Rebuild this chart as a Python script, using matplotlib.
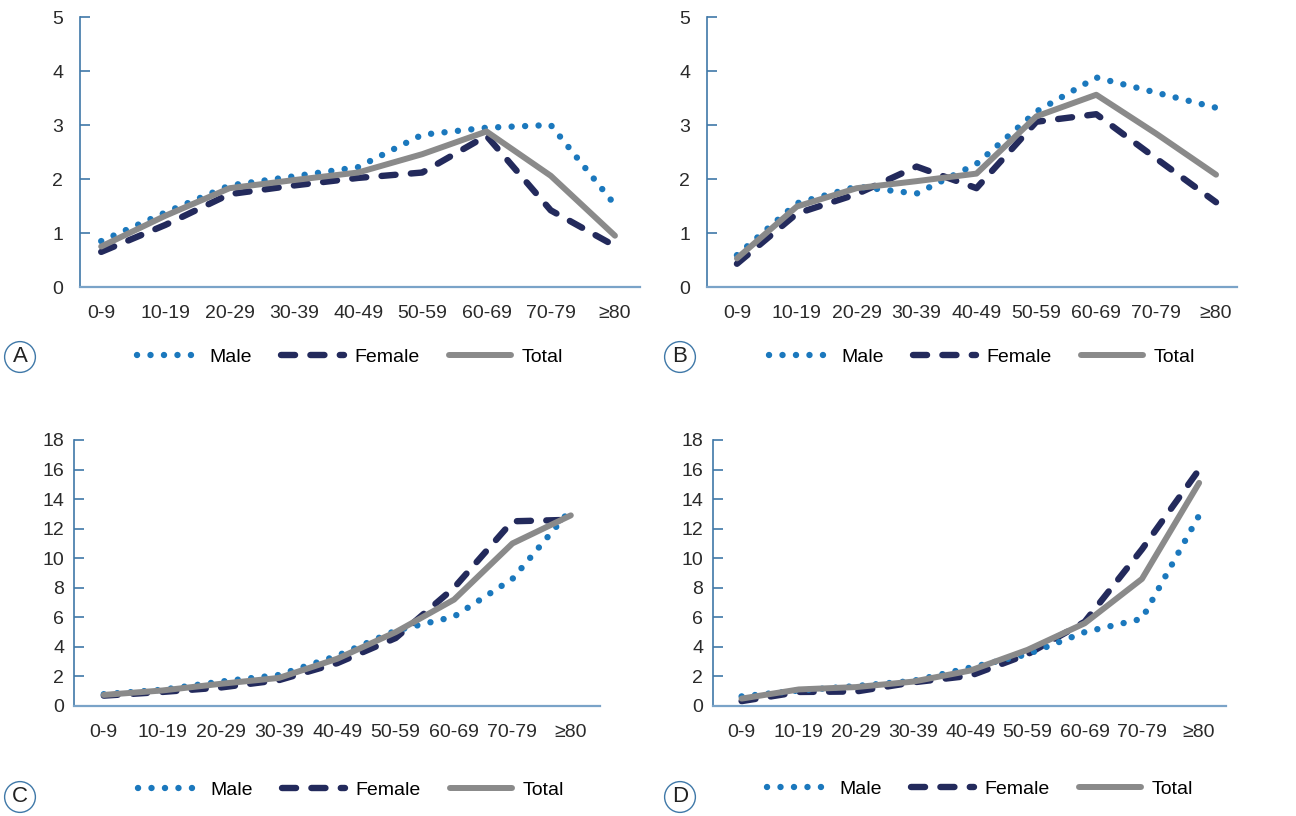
import numpy as np
import matplotlib
matplotlib.use("Agg")
from matplotlib import pyplot as plt
from matplotlib.lines import Line2D

plt.rcParams['font.family'] = ['Liberation Sans', 'DejaVu Sans']

ages = ['0-9', '10-19', '20-29', '30-39', '40-49', '50-59', '60-69', '70-79', '≥80']

# panel A
male_A = [0.85, 1.38, 1.88, 2.05, 2.22, 2.82, 2.95, 3.0, 1.52]
female_A = [0.65, 1.15, 1.72, 1.88, 2.02, 2.12, 2.8, 1.42, 0.76]
total_A = [0.75, 1.32, 1.83, 1.98, 2.12, 2.46, 2.88, 2.06, 0.95]
# panel B
male_B = [0.59, 1.55, 1.86, 1.73, 2.28, 3.25, 3.88, 3.6, 3.32]
female_B = [0.43, 1.36, 1.72, 2.23, 1.83, 3.06, 3.2, 2.38, 1.57]
total_B = [0.53, 1.49, 1.83, 1.96, 2.1, 3.16, 3.56, 2.84, 2.08]
# panel C
male_C = [0.8, 1.1, 1.65, 2.1, 3.4, 5.1, 6.05, 8.6, 13.3]
female_C = [0.7, 0.95, 1.25, 1.75, 2.9, 4.6, 8.0, 12.5, 12.6]
total_C = [0.75, 1.05, 1.5, 1.9, 3.2, 5.0, 7.2, 11.0, 12.9]
# panel D
male_D = [0.65, 1.05, 1.35, 1.7, 2.6, 3.5, 5.0, 5.9, 12.9]
female_D = [0.33, 0.95, 0.98, 1.6, 2.05, 3.5, 5.7, 10.6, 16.0]
total_D = [0.5, 1.12, 1.28, 1.65, 2.4, 3.8, 5.6, 8.6, 15.1]

c_male = '#1b78bd'
c_female = '#232a5c'
c_total = '#8a8a8a'
c_axis = '#3f78a8'
c_xaxis = '#7aa3c8'

dots = (0, (0.01, 2.1))
dashes = (0, (2.2, 2.4))

W, H = 1296, 816
fig = plt.figure(figsize=(W / 100, H / 100), dpi=100)


def box(l, r, b, t):
    return [l / W, 1 - b / H, (r - l) / W, (b - t) / H]


panels = [
    ('A', box(80, 640, 287, 17), (-0.33, 8.39), 5, 1, 12, male_A, female_A, total_A, (20, 357), (350, 357)),
    ('B', box(707, 1237, 287, 17), (-0.5, 8.35), 5, 1, 12, male_B, female_B, total_B, (680, 357), (982, 357)),
    ('C', box(74, 600, 706, 440), (-0.51, 8.5), 18, 2, 7, male_C, female_C, total_C, (20, 797), (351, 790)),
    ('D', box(713, 1226, 706, 440), (-0.5, 8.47), 18, 2, 7, male_D, female_D, total_D, (680, 797), (980, 789)),
]

x = np.arange(len(ages))
for letter, pos, xl, ymax, ystep, ypad, m, f, t, lpos, legpos in panels:
    ax = fig.add_axes(pos)
    ax.plot(x, m, color=c_male, lw=4.6, ls=dots, dash_capstyle='round', label='Male', zorder=3)
    ax.plot(x, f, color=c_female, lw=4.6, ls=dashes, dash_capstyle='round', label='Female', zorder=2)
    ax.plot(x, t, color=c_total, lw=4.3, solid_capstyle='round', solid_joinstyle='round',
            label='Total', zorder=4)
    ax.set_xlim(*xl)
    ax.set_ylim(0, ymax)
    ax.set_yticks(np.arange(0, ymax + 0.1, ystep))
    ax.set_xticks(x)
    ax.set_xticklabels(ages)
    for s in ['top', 'right']:
        ax.spines[s].set_visible(False)
    ax.spines['left'].set_color(c_axis)
    ax.spines['bottom'].set_color(c_xaxis)
    ax.spines['left'].set_linewidth(1.2)
    ax.spines['bottom'].set_linewidth(1.6)
    ax.tick_params(axis='y', direction='in', length=7, width=1.2, color=c_axis,
                   labelsize=14, labelcolor='#2a2a2a', pad=ypad)
    ax.tick_params(axis='x', length=0, labelsize=14, labelcolor='#2a2a2a', pad=13)
    ax.patch.set_alpha(0)

    handles = [
        Line2D([], [], color=c_male, lw=4.6, ls=dots, dash_capstyle='round'),
        Line2D([], [], color=c_female, lw=4.6, ls=dashes, dash_capstyle='round'),
        Line2D([], [], color=c_total, lw=4.3, solid_capstyle='round'),
    ]
    fig.legend(handles, ['Male', 'Female', 'Total'], loc='center',
               bbox_to_anchor=(legpos[0] / W, 1 - legpos[1] / H), ncol=3,
               frameon=False, fontsize=14, handlelength=3.2, handletextpad=0.55,
               columnspacing=1.5)

    fig.text(lpos[0] / W, 1 - lpos[1] / H, letter, ha='center', va='center',
             fontsize=16, color='#222222',
             bbox=dict(boxstyle='circle,pad=0.22', fc='white', ec=c_axis, lw=1.0))

fig.savefig('out.png', dpi=100)
